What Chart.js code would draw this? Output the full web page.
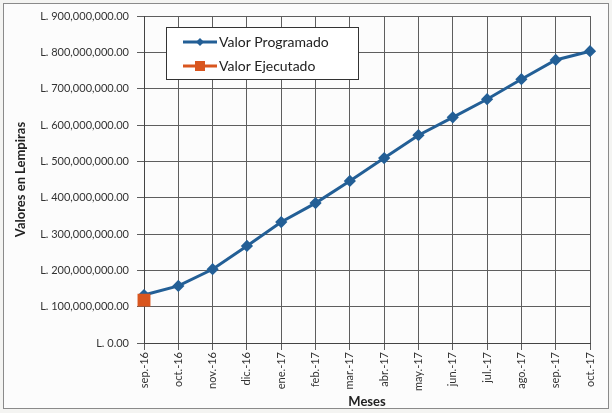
<!DOCTYPE html>
<html lang="es">
<head>
    <meta charset="UTF-8">
    <title>Valor Programado vs Ejecutado</title>
    <script src="https://cdn.jsdelivr.net/npm/chart.js"></script>
    <style>
        html, body {
            margin: 0;
            padding: 0;
            background: #f4f4f2;
        }
        #marco {
            position: absolute;
            left: 3px;
            top: 3px;
            width: 604px;
            height: 404px;
            border: 1px solid #8a8a8a;
            background: #fcfcfc;
        }
        #grafica {
            position: absolute;
            left: 0;
            top: 0;
        }
    </style>
</head>
<body>
    <div id="marco"></div>
    <canvas id="grafica" width="612" height="413"></canvas>

    <script>
        // Datos de la gráfica
        const meses = ['sep.-16', 'oct.-16', 'nov.-16', 'dic.-16', 'ene.-17', 'feb.-17', 'mar.-17',
                       'abr.-17', 'may.-17', 'jun.-17', 'jul.-17', 'ago.-17', 'sep.-17', 'oct.-17'];
        const valorProgramado = [132000000, 157000000, 203000000, 267000000, 333000000, 385000000, 446000000,
                                 509000000, 572000000, 621000000, 671000000, 726000000, 779000000, 803000000];
        const valorEjecutado = [118000000, null, null, null, null, null, null,
                                null, null, null, null, null, null, null];
        const nombres = ['Valor Programado', 'Valor Ejecutado'];

        const azul = '#235f96';
        const naranja = '#d9561f';
        const fuente = 'Lato, "Open Sans", sans-serif';

        function formatoLempiras(v) {
            return 'L. ' + v.toLocaleString('en-US', { minimumFractionDigits: 2, maximumFractionDigits: 2 });
        }

        // Leyenda dibujada dentro del área de la gráfica
        const leyendaInterna = {
            id: 'leyendaInterna',
            afterDraw(chart) {
                const c = chart.ctx;
                const x = 166, y = 27, w = 192, h = 52;
                c.save();
                c.fillStyle = '#ffffff';
                c.fillRect(x, y, w, h);
                c.strokeStyle = '#333333';
                c.lineWidth = 1;
                c.strokeRect(x + 0.5, y + 0.5, w, h);
                chart.data.datasets.forEach(function (ds, i) {
                    const ly = y + 15 + i * 24;
                    c.strokeStyle = ds.borderColor;
                    c.lineWidth = 3;
                    c.beginPath();
                    c.moveTo(183, ly);
                    c.lineTo(217, ly);
                    c.stroke();
                    c.fillStyle = ds.backgroundColor;
                    c.beginPath();
                    if (i === 0) {
                        c.moveTo(200, ly - 4);
                        c.lineTo(204, ly);
                        c.lineTo(200, ly + 4);
                        c.lineTo(196, ly);
                    } else {
                        c.rect(195, ly - 5, 10, 10);
                    }
                    c.fill();
                    c.fillStyle = '#222222';
                    c.font = '14px ' + fuente;
                    c.textBaseline = 'middle';
                    c.fillText(ds.label, 219, ly);
                });
                c.restore();
            }
        };

        const ctx = document.getElementById('grafica').getContext('2d');
        const grafica = new Chart(ctx, {
            type: 'line',
            data: {
                labels: meses,
                datasets: [{
                    label: nombres[0],
                    data: valorProgramado,
                    borderColor: azul,
                    backgroundColor: azul,
                    borderWidth: 3,
                    pointStyle: 'rectRot',
                    pointRadius: 4,
                    fill: false,
                    order: 2
                }, {
                    label: nombres[1],
                    data: valorEjecutado,
                    borderColor: naranja,
                    backgroundColor: naranja,
                    borderWidth: 3,
                    pointStyle: 'rect',
                    pointRadius: 7,
                    fill: false,
                    order: 1
                }]
            },
            options: {
                responsive: false,
                animation: false,
                layout: {
                    padding: { left: 9, right: 22, top: 16, bottom: 0 }
                },
                plugins: {
                    legend: { display: false },
                    tooltip: { enabled: false }
                },
                scales: {
                    x: {
                        offset: false,
                        afterFit: function (scale) { scale.height = 70; },
                        grid: {
                            color: '#5e5e5e',
                            tickLength: 7,
                            drawTicks: true
                        },
                        border: { color: '#444444' },
                        ticks: {
                            maxRotation: 90,
                            minRotation: 90,
                            autoSkip: false,
                            padding: 2,
                            color: '#333333',
                            font: { family: fuente, size: 11 }
                        },
                        title: {
                            display: true,
                            text: 'Meses',
                            color: '#222222',
                            font: { family: fuente, size: 13, weight: 'bold' },
                            padding: { top: 0, bottom: 3 }
                        }
                    },
                    y: {
                        min: 0,
                        max: 900000000,
                        afterFit: function (scale) { scale.width = 135; },
                        grid: {
                            color: '#5e5e5e',
                            tickLength: 7
                        },
                        border: { color: '#444444' },
                        ticks: {
                            stepSize: 100000000,
                            padding: 8,
                            color: '#333333',
                            font: { family: fuente, size: 11 },
                            callback: function (v) { return formatoLempiras(v); }
                        },
                        title: {
                            display: true,
                            text: 'Valores en Lempiras',
                            color: '#222222',
                            font: { family: fuente, size: 13, weight: 'bold' },
                            padding: { top: 4, bottom: 4 }
                        }
                    }
                }
            },
            plugins: [leyendaInterna]
        });
    </script>
</body>
</html>
